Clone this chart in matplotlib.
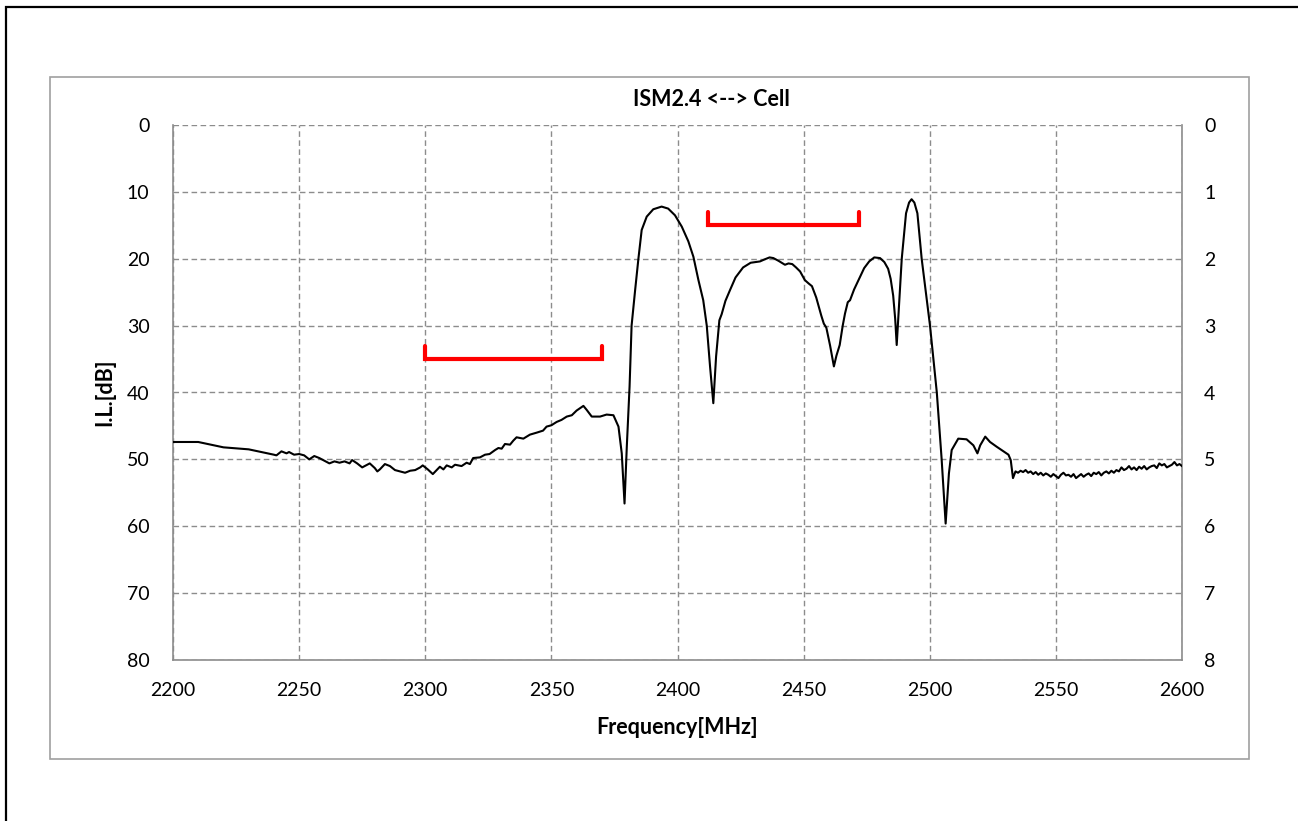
import matplotlib
matplotlib.use("Agg")
import matplotlib.pyplot as plt
from matplotlib.patches import Rectangle

plt.rcParams['font.family'] = ['Lato', 'DejaVu Sans']

# measured insertion loss, ISM2.4 -> Cell port
freq = [2200, 2210, 2220, 2230, 2240, 2241, 2243, 2245, 2246, 2248, 2250, 2252,
        2254, 2256, 2258, 2260, 2262, 2264, 2266, 2268, 2270, 2271, 2273, 2275,
        2276, 2278, 2280, 2281, 2282, 2284, 2286, 2288, 2290, 2292, 2294, 2296,
        2298, 2299, 2301, 2303, 2305.8, 2307.2, 2308.5, 2310.5, 2311.8, 2314.4,
        2316.4, 2317.7, 2319, 2321.7, 2323.7, 2325.5, 2327.7, 2329, 2330.3,
        2331.6, 2333.6, 2334.9, 2336.2, 2338.9, 2341.5, 2344.2, 2346.7, 2348.1,
        2350, 2352.1, 2354, 2356.1, 2358.1, 2360, 2362.7, 2364, 2366, 2369.3,
        2371.9, 2374.6, 2376.6, 2377.9, 2379, 2379.9, 2381, 2381.8, 2383.2,
        2384.5, 2385.8, 2387.8, 2390.4, 2393.7, 2396.3, 2399, 2401.7, 2404.3,
        2406.3, 2408.3, 2410.2, 2411.6, 2412.9, 2414.2, 2415.3, 2416.6, 2417.5,
        2419, 2420.8, 2423, 2426, 2429, 2432.7, 2434.5, 2436.5, 2438, 2440,
        2442.6, 2444, 2445.5, 2447, 2448.6, 2450.5, 2452, 2453.3, 2455, 2457,
        2458, 2459, 2460.5, 2462, 2463, 2464.3, 2465.5, 2466.4, 2467.5, 2468.4,
        2470, 2472, 2474, 2476, 2478, 2480.3, 2482, 2483.5, 2484.5, 2485.5,
        2486.3, 2486.9, 2487.8, 2488.9, 2490.6, 2491.8, 2492.8, 2493.9, 2495.1,
        2496.8, 2500.1, 2502.8, 2504.7, 2506.3, 2507.6, 2508.7, 2511.3, 2514.6,
        2517.3, 2518.9, 2520, 2522, 2523.9, 2526.5, 2529.2, 2531.2, 2532.1, 2533,
        2534, 2535, 2536, 2537, 2538, 2539, 2540, 2541, 2542, 2543, 2544, 2545,
        2546, 2547, 2548, 2549, 2550, 2551, 2552, 2553, 2554, 2555, 2556, 2557,
        2558, 2559, 2560, 2561, 2562, 2563, 2564, 2565, 2566, 2567, 2568, 2569,
        2570, 2571, 2572, 2573, 2574, 2575, 2576, 2577, 2578, 2579, 2580, 2581,
        2582, 2583, 2584, 2585, 2586, 2587, 2588, 2589, 2590, 2591, 2592, 2593,
        2594, 2595, 2596, 2597, 2598, 2599, 2600]
il = [47.4, 47.4, 48.2, 48.5, 49.3, 49.4, 48.8, 49.1, 48.9, 49.3, 49.2, 49.4,
      50.0, 49.5, 49.8, 50.2, 50.6, 50.3, 50.5, 50.3, 50.6, 50.1, 50.6, 51.2,
      51.0, 50.6, 51.3, 51.8, 51.5, 50.7, 51.0, 51.6, 51.8, 52.0, 51.7, 51.6,
      51.2, 50.9, 51.5, 52.2, 51.1, 51.5, 50.9, 51.2, 50.8, 51.0,
      50.5, 50.7, 49.8, 49.7, 49.3, 49.2, 48.6, 48.3, 48.4,
      47.7, 47.8, 47.2, 46.7, 46.9, 46.3, 46.0, 45.7, 45.1,
      44.9, 44.4, 44.1, 43.6, 43.4, 42.7, 42.0, 42.6, 43.6, 43.6,
      43.3, 43.4, 45.1, 49.1, 56.6, 48.1, 39.1, 30.0, 24.7,
      20.0, 15.7, 13.7, 12.6, 12.2, 12.5, 13.5, 15.2, 17.4,
      19.7, 23.2, 26.2, 30.0, 36.1, 41.6, 34.6, 29.2, 28.3,
      26.3, 24.7, 22.8, 21.3, 20.6, 20.4, 20.1, 19.8, 19.9, 20.3,
      20.9, 20.7, 20.8, 21.3, 21.9, 23.2, 23.7, 24.1, 25.8, 28.5,
      29.7, 30.3, 33.0, 36.1, 34.5, 32.9, 30.0, 28.2, 26.5, 26.2,
      24.6, 23.0, 21.4, 20.4, 19.8, 19.9, 20.5, 21.5, 23.0, 25.5,
      29.0, 32.9, 27.2, 20.0, 13.2, 11.6, 11.1, 11.6, 13.2,
      20.0, 30.0, 40.0, 49.9, 59.6, 52.1, 48.6, 46.9, 47.0,
      47.9, 49.1, 47.9, 46.6, 47.4, 48.1, 48.8, 49.3, 50.1, 52.8,
      51.8, 52.0, 51.7, 51.9, 51.6, 52.0, 51.8, 52.2, 51.9, 52.3, 52.0, 52.4,
      52.1, 52.3, 52.6, 52.2, 52.5, 52.8, 52.3, 52.0, 52.4, 52.3, 52.6, 52.2,
      52.8, 52.5, 52.2, 52.6, 52.3, 52.1, 52.5, 52.0, 52.2, 51.9, 52.4, 52.0,
      51.8, 52.1, 51.7, 52.0, 51.6, 51.8, 51.2, 51.6, 51.4, 51.0, 51.5, 51.2,
      51.6, 51.1, 51.4, 51.0, 51.5, 51.2, 51.0, 50.9, 51.3, 50.6, 50.9, 50.7,
      51.2, 51.0, 50.8, 50.4, 50.9, 50.7, 51.0]

# pass bands marked in red: start, stop, level
band_lo = [2300, 2412]
band_hi = [2370, 2472]
band_lvl = [35, 15]

W, H = 1298, 821
fig = plt.figure(figsize=(W / 100, H / 100), dpi=100)
ax = fig.add_axes([173 / W, 1 - 660 / H, 1009 / W, 535 / H])

grid_c = '#8c8c8c'
ax.plot(freq, il, color='black', lw=1.5, zorder=3)
for lo, hi, lv in zip(band_lo, band_hi, band_lvl):
    ax.plot([lo, lo, hi, hi], [lv - 2, lv, lv, lv - 2], color='#ff0000', lw=3,
            solid_capstyle='round', solid_joinstyle='miter', zorder=4)

ax.set_xlim(2200, 2600)
ax.set_ylim(80, 0)
ax.set_xticks(range(2200, 2601, 50))
ax.set_yticks(range(0, 81, 10))
ax.grid(True, color=grid_c, ls=(0, (4, 2.5)), lw=1)
ax.tick_params(length=0, labelsize=14)
ax.tick_params(axis='x', pad=15.5)
ax.tick_params(axis='y', pad=17)
for s in ['left', 'bottom', 'right']:
    ax.spines[s].set_color(grid_c)
    ax.spines[s].set_linewidth(1.2)
ax.spines['top'].set_visible(False)

ax.set_xlabel('Frequency[MHz]', fontsize=15.5, fontweight='bold', va='center')
ax.xaxis.set_label_coords(0.5, -(727 - 660) / 535)
ax.set_ylabel('I.L.[dB]', fontsize=15.5, fontweight='bold', va='center', ha='center')
ax.yaxis.set_label_coords(-(173 - 105) / 1009, 0.5)
fig.text(711 / W, 1 - 99 / H, 'ISM2.4 <--> Cell', fontsize=15.5, fontweight='bold',
         ha='center', va='center')

ax2 = ax.twinx()
ax2.set_ylim(8, 0)
ax2.set_yticks(range(0, 9))
ax2.tick_params(length=0, labelsize=14, pad=16)
for s in ax2.spines.values():
    s.set_visible(False)

# chart frame and page border
fig.add_artist(Rectangle((50 / W, 1 - 759 / H), 1199 / W, 682 / H,
                         transform=fig.transFigure, fill=False,
                         edgecolor='#a0a0a0', lw=1.2))
fig.add_artist(Rectangle((6 / W, -0.1), 1.2, 1.1 - 7 / H,
                         transform=fig.transFigure, fill=False,
                         edgecolor='black', lw=1.6))

fig.savefig('out.png', dpi=100)
